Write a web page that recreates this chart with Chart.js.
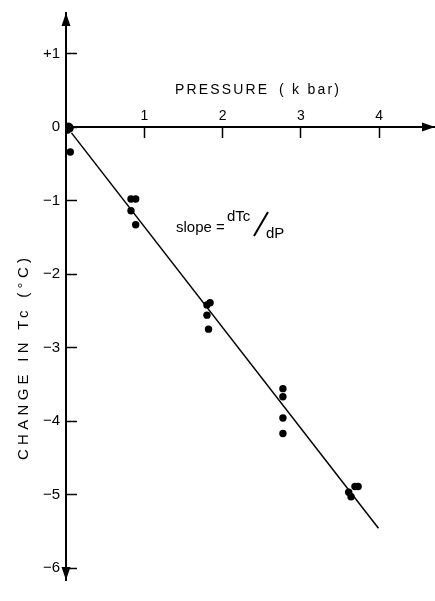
<!DOCTYPE html>
<html><head><meta charset="utf-8">
<script src="https://cdn.jsdelivr.net/npm/chart.js@4/dist/chart.umd.min.js"></script>
<style>html,body{margin:0;padding:0;background:#fff;overflow:hidden}canvas{display:block}</style>
</head><body>
<canvas id="c" width="435" height="601"></canvas>
<script>
// ---- data ----
const pressureKbar = [0.01, 0.03, 0.045, 0.02, 0.05, 0.055, 0.83, 0.89, 0.83, 0.89, 1.80, 1.84, 1.80, 1.82, 2.77, 2.77, 2.77, 2.77, 3.69, 3.73, 3.61, 3.64];
const deltaTc      = [0.00, 0.01, 0.00, -0.04, -0.02, -0.34, -0.98, -0.98, -1.14, -1.33, -2.42, -2.39, -2.56, -2.75, -3.56, -3.67, -3.96, -4.17, -4.89, -4.89, -4.97, -5.03];
const fitPressure  = [0.07, 3.99];
const fitTc        = [-0.08, -5.46];
const xTickValues  = [1, 2, 3, 4];
const xTickLabels  = ['1', '2', '3', '4'];
const yTickValues  = [1, 0, -1, -2, -3, -4, -5, -6];
const yTickLabels  = ['+1', '0', '\u22121', '\u22122', '\u22123', '\u22124', '\u22125', '\u22126'];
const xAxisTitleA  = 'PRESSURE';
const xAxisTitleB  = '( k bar)';
const yAxisTitle   = 'CHANGE IN Tc (\u00B0C)';

const FONT = "'Liberation Sans', Arial, sans-serif";
Chart.defaults.font.family = FONT;
Chart.defaults.color = '#000';

const points = pressureKbar.map((p, i) => ({x: p, y: deltaTc[i]}));
const fit = fitPressure.map((p, i) => ({x: p, y: fitTc[i]}));

function drawSpaced(ctx, text, x, y, target) {
  ctx.letterSpacing = '0px';
  const w0 = ctx.measureText(text).width;
  const n = text.length;
  const sp = n > 1 ? (target - w0) / (n - 1) : 0;
  ctx.letterSpacing = sp + 'px';
  ctx.textAlign = 'left';
  ctx.fillText(text, x, y);
  ctx.letterSpacing = '0px';
}

function zeroPad(s) { s.paddingTop = 0; s.paddingBottom = 0; s.paddingLeft = 0; s.paddingRight = 0; }

const decor = {
  id: 'decor',
  afterDraw(chart) {
    const ctx = chart.ctx;
    const xs = chart.scales.x, ys = chart.scales.y;
    const ox = xs.getPixelForValue(0), oy = ys.getPixelForValue(0);
    const top = ys.getPixelForValue(ys.max), bot = ys.getPixelForValue(ys.min);
    const right = xs.getPixelForValue(xs.max);
    ctx.save();
    ctx.fillStyle = '#000';
    ctx.strokeStyle = '#000';
    // arrowheads
    ctx.beginPath(); ctx.moveTo(ox, top); ctx.lineTo(ox - 4.5, top + 13); ctx.lineTo(ox + 4.5, top + 13); ctx.closePath(); ctx.fill();
    ctx.beginPath(); ctx.moveTo(ox, bot); ctx.lineTo(ox - 4.5, bot - 13); ctx.lineTo(ox + 4.5, bot - 13); ctx.closePath(); ctx.fill();
    ctx.beginPath(); ctx.moveTo(right, oy); ctx.lineTo(right - 13, oy - 4.5); ctx.lineTo(right - 13, oy + 4.5); ctx.closePath(); ctx.fill();
    // x axis title
    ctx.font = '14px ' + FONT;
    ctx.textBaseline = 'alphabetic';
    drawSpaced(ctx, xAxisTitleA, 175, 94, 92);
    drawSpaced(ctx, xAxisTitleB, 279, 94, 60);
    // y axis title (rotated)
    ctx.save();
    ctx.translate(28, 460);
    ctx.rotate(-Math.PI / 2);
    ctx.font = '15px ' + FONT;
    drawSpaced(ctx, yAxisTitle, 0, 0, 202);
    ctx.restore();
    // slope annotation
    ctx.font = '15px ' + FONT;
    ctx.textAlign = 'left';
    ctx.fillText('slope =', 176, 232);
    ctx.fillText('dTc', 227, 221);
    ctx.fillText('dP', 266, 238);
    ctx.lineWidth = 2;
    ctx.beginPath(); ctx.moveTo(268, 212); ctx.lineTo(254, 236); ctx.stroke();
    ctx.restore();
  }
};

new Chart(document.getElementById('c').getContext('2d'), {
  type: 'scatter',
  data: {
    datasets: [
      { data: points, backgroundColor: '#000', borderColor: '#000', pointRadius: 3.7, pointHoverRadius: 3.7, borderWidth: 0 },
      { data: fit, showLine: true, borderColor: '#000', borderWidth: 1.5, pointRadius: 0, fill: false }
    ]
  },
  options: {
    responsive: false,
    devicePixelRatio: 1,
    animation: false,
    events: [],
    layout: { padding: { top: 13, bottom: 21, left: 0, right: 0 }, autoPadding: false },
    plugins: { legend: { display: false }, tooltip: { enabled: false }, title: { display: false } },
    scales: {
      x: {
        type: 'linear', min: 0, max: 4.712, position: { y: 0 },
        afterFit(s) { s.height = 0; zeroPad(s); },
        afterBuildTicks(s) { s.ticks = xTickValues.map(v => ({ value: v })); },
        grid: { drawOnChartArea: false, drawTicks: true, tickLength: 10, tickWidth: 1.5, tickColor: '#000' },
        border: { display: true, color: '#000', width: 2 },
        ticks: { color: '#000', font: { size: 14 }, padding: -29, maxRotation: 0, autoSkip: false,
                 callback: (v) => xTickLabels[xTickValues.indexOf(v)] }
      },
      y: {
        type: 'linear', min: -6.163, max: 1.551, position: 'left',
        afterFit(s) { s.width = 66; zeroPad(s); },
        afterBuildTicks(s) { s.ticks = yTickValues.map(v => ({ value: v })); },
        grid: { drawOnChartArea: false, drawTicks: true, tickLength: -11, tickWidth: 1.5, tickColor: '#000' },
        border: { display: true, color: '#000', width: 2 },
        ticks: { color: '#000', font: { size: 15 }, padding: 17, autoSkip: false,
                 callback: (v) => yTickLabels[yTickValues.indexOf(v)] }
      }
    }
  },
  plugins: [decor]
});
</script>
</body></html>
